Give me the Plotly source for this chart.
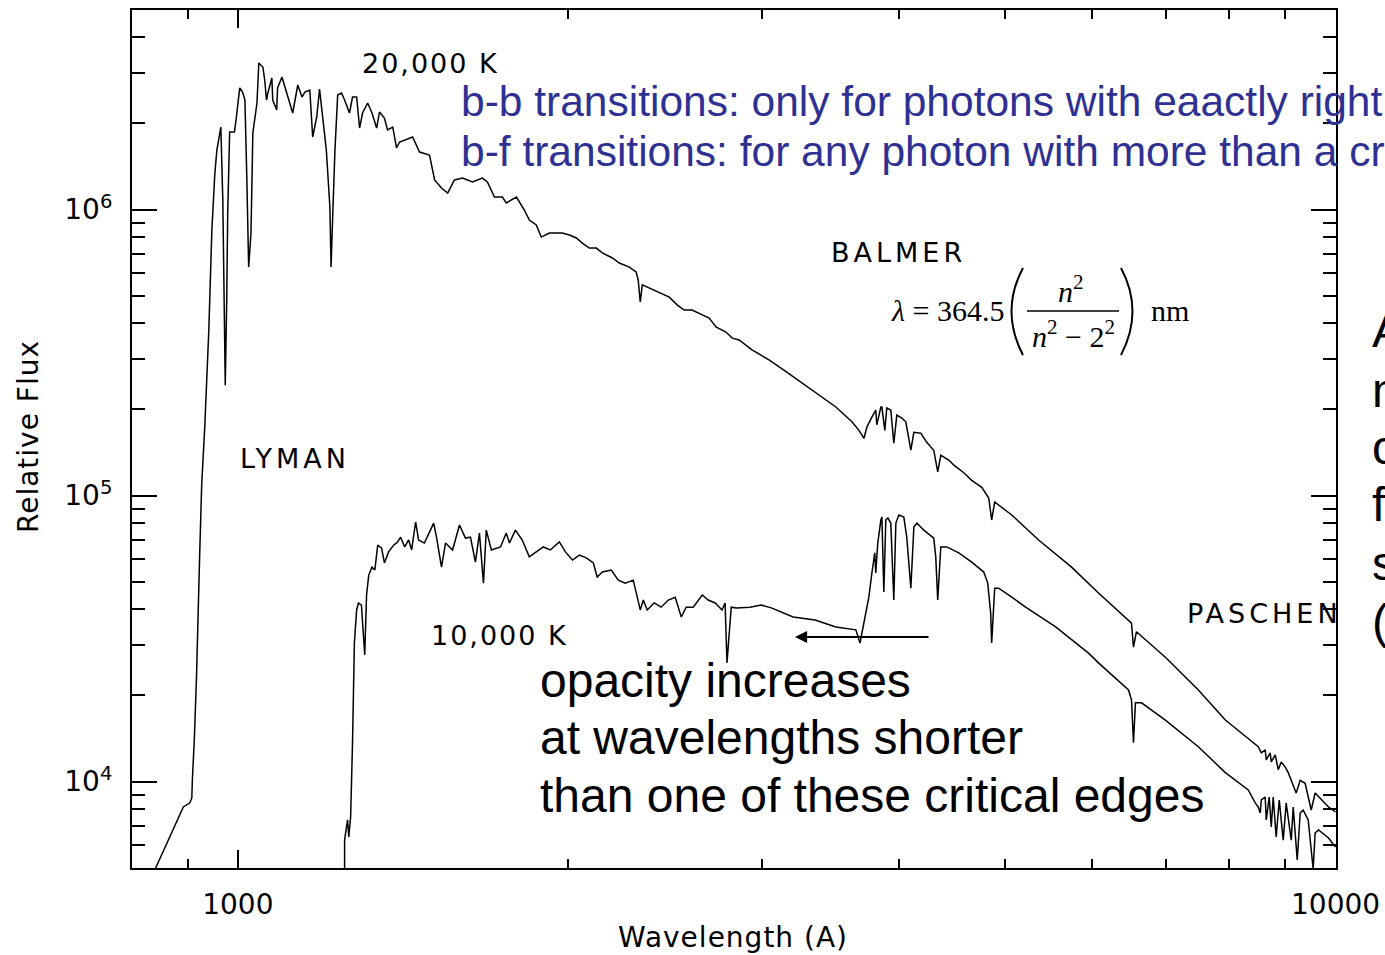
import plotly.graph_objects as go

# ---------------- data ----------------
wl_20k = [841, 892, 904, 908, 909, 913, 917, 921, 923, 927, 933, 941, 947, 953, 957, 963, 965, 969, 974, 977,
          979, 983, 993, 997, 1004, 1010, 1015, 1019, 1023, 1028, 1032, 1041, 1045, 1054, 1058, 1062, 1065, 1074,
          1076, 1085, 1087, 1097, 1108, 1122, 1134, 1144, 1151, 1163, 1170, 1180, 1187, 1194, 1204, 1213, 1216,
          1221, 1226, 1233, 1243, 1251, 1264, 1272, 1283, 1291, 1299, 1313, 1325, 1338, 1346, 1360, 1369, 1384,
          1395, 1404, 1443, 1464, 1495, 1511, 1533, 1553, 1575, 1602, 1636, 1670, 1688, 1713, 1742, 1756, 1794,
          1824, 1843, 1870, 1890, 1922, 1975, 2005, 2034, 2060, 2090, 2121, 2148, 2194, 2226, 2273, 2306, 2316,
          2326, 2336, 2370, 2420, 2472, 2513, 2550, 2593, 2649, 2688, 2728, 2784, 2821, 2862, 2940, 3047, 3158,
          3265, 3384, 3506, 3626, 3680, 3719, 3742, 3781, 3812, 3820, 3853, 3861, 3885, 3901, 3934, 3959, 3984,
          4026, 4060, 4103, 4129, 4190, 4242, 4305, 4341, 4369, 4443, 4490, 4585, 4662, 4761, 4831, 4861, 4892,
          4964, 5070, 5364, 5748, 6082, 6518, 6545, 6586, 6998, 7499, 7936, 8503, 8557, 8628, 8647, 8719, 8738,
          8811, 8867, 8923, 8997, 9055, 9207, 9285, 9382, 9502, 9581, 9854, 10000]
flux_20k = [4950, 8150, 8410, 8760, 10100, 14340, 23340, 39160, 60960, 108800, 173900, 379000, 848000, 1341000,
            1614000, 1852000, 1942000, 1080000, 243000, 483000, 969000, 1867000, 1867000, 2106000, 2661000,
            2575000, 2415000, 1299000, 629000, 828000, 1852000, 2357000, 3253000, 3150000, 2837000, 2415000,
            2554000, 2884000, 2415000, 2228000, 2661000, 2906000, 2554000, 2175000, 2725000, 2473000, 2575000,
            2617000, 1793000, 2106000, 2638000, 2106000, 1614000, 1021000, 629000, 1021000, 1614000, 2513000,
            2554000, 2415000, 2175000, 2473000, 2473000, 1927000, 2175000, 2357000, 2175000, 1927000, 2192000,
            2089000, 1897000, 1942000, 1641000, 1722000, 1793000, 1588000, 1550000, 1268000, 1189000, 1142000,
            1268000, 1288000, 1248000, 1288000, 1248000, 1106000, 1106000, 1054000, 1106000, 996000, 919000,
            883000, 801000, 828000, 828000, 814000, 795000, 763000, 733000, 733000, 705000, 677000, 650000,
            629000, 605000, 567000, 475000, 545000, 532000, 515000, 494000, 464000, 445000, 445000, 427000,
            417000, 388000, 373000, 355000, 350000, 323000, 298000, 271000, 247000, 225000, 204000, 181000,
            169000, 158500, 173900, 188100, 199000, 176700, 204000, 204000, 169000, 202500, 199000, 152300,
            191100, 186600, 181000, 144000, 166300, 165000, 153500, 144000, 121000, 138300, 133000, 127700,
            120100, 113000, 106800, 98000, 82100, 94900, 91100, 85500, 69900, 56200, 45600, 35800, 29500, 33400,
            27200, 20900, 16400, 13230, 12590, 12900, 11900, 12590, 11710, 12390, 11000, 11710, 11250, 10740,
            9117, 10100, 9858, 7950, 9117, 8147, 7823]

wl_10k = [1251, 1251, 1256, 1259, 1262, 1267, 1272, 1275, 1277, 1283, 1288, 1296, 1305, 1310, 1316, 1325, 1333,
          1341, 1352, 1360, 1372, 1387, 1398, 1407, 1419, 1431, 1440, 1452, 1461, 1479, 1508, 1517, 1533, 1546,
          1569, 1592, 1612, 1629, 1646, 1660, 1674, 1684, 1702, 1735, 1756, 1768, 1790, 1816, 1843, 1870, 1898,
          1926, 1963, 1988, 2018, 2047, 2077, 2108, 2125, 2148, 2189, 2221, 2254, 2292, 2306, 2326, 2341, 2360,
          2395, 2430, 2467, 2503, 2535, 2561, 2599, 2649, 2682, 2722, 2761, 2779, 2790, 2815, 2844, 2928, 2997,
          3066, 3205, 3356, 3506, 3656, 3688, 3703, 3734, 3757, 3781, 3804, 3812, 3828, 3853, 3861, 3877, 3893,
          3910, 3934, 3959, 3976, 4001, 4043, 4068, 4086, 4103, 4129, 4155, 4216, 4305, 4323, 4341, 4369, 4424,
          4537, 4662, 4781, 4821, 4851, 4861, 4892, 4933, 5070, 5220, 5559, 5956, 6082, 6477, 6518, 6545, 6572,
          6656, 6998, 7499, 7936, 8327, 8449, 8503, 8539, 8557, 8628, 8647, 8701, 8738, 8774, 8829, 8886, 8960,
          9016, 9112, 9150, 9227, 9285, 9343, 9442, 9541, 9581, 9650, 9854, 10000]
flux_10k = [4900, 6240, 6937, 7340, 6398, 7514, 13670, 24500, 30500, 39800, 42100, 41400, 27700, 44900, 52700,
            56200, 54900, 67100, 65500, 58100, 63500, 67100, 68800, 71500, 66100, 69900, 64500, 80800, 69900,
            68200, 80100, 71500, 56200, 68200, 64500, 78900, 71000, 71500, 58500, 73900, 49400, 75700, 64500,
            66100, 73900, 68200, 75700, 69900, 61000, 63500, 66100, 64500, 68800, 63500, 59500, 61900, 60500,
            58100, 51900, 54000, 54900, 50600, 49400, 50600, 46000, 39800, 43100, 39800, 42100, 40700, 43100,
            44100, 37600, 40700, 40700, 44900, 43100, 42100, 39800, 42100, 26000, 40700, 40400, 40700, 41400,
            40400, 37600, 36700, 34700, 33900, 30500, 33100, 38800, 44100, 53600, 63000, 53600, 68200, 82100,
            84100, 46000, 82100, 83400, 80100, 43100, 80100, 85500, 84100, 71500, 59500, 47400, 77600, 80100,
            75700, 71000, 61000, 43100, 66100, 66100, 63000, 58500, 54000, 49400, 38800, 30500, 47400, 47400,
            44100, 40700, 34700, 28100, 26000, 20900, 19300, 13670, 18840, 18840, 16400, 13230, 10740, 9340,
            8414, 8147, 7760, 8620, 8827, 7340, 8827, 6937, 8827, 6398, 8620, 6240, 8414, 6240, 8147, 5320,
            7760, 7950, 7340, 4950, 6608, 6770, 6348, 5897]

x_major = [1000, 10000]
x_major_text = ["1000", "10000"]
x_minor = [800, 900, 2000, 3000, 4000, 5000, 6000, 7000, 8000, 9000]
y_major = [1e4, 1e5, 1e6]
y_major_text = ["10<sup>4</sup>", "10<sup>5</sup>", "10<sup>6</sup>"]
y_minor = [6000, 7000, 8000, 9000, 2e4, 3e4, 4e4, 5e4, 6e4, 7e4, 8e4, 9e4,
           2e5, 3e5, 4e5, 5e5, 6e5, 7e5, 8e5, 9e5, 2e6, 3e6, 4e6]

# ---------------- layout geometry ----------------
W, H = 1385, 955
L, R, T, B = 132, 49, 10, 87
PW, PH = W - L - R, H - T - B


def px(x):
    return (x - L) / PW


def py(y):
    return (H - B - y) / PH


IDL = "DejaVu Sans"
ARIAL = "Liberation Sans"
SERIF = "Liberation Serif"
BLUE = "#2e3192"

fig = go.Figure()
fig.add_trace(go.Scatter(x=wl_20k, y=flux_20k, mode="lines",
                         line=dict(color="black", width=1.5), showlegend=False, hoverinfo="skip"))
fig.add_trace(go.Scatter(x=wl_10k, y=flux_10k, mode="lines",
                         line=dict(color="black", width=1.5), showlegend=False, hoverinfo="skip"))

ann = []


def text(x, y, s, size, color="black", family=IDL, xanchor="left", yanchor="middle", angle=0):
    if xanchor == "left":
        x -= 3
    ann.append(dict(x=px(x), y=py(y), xref="paper", yref="paper", text=s, showarrow=False,
                    xanchor=xanchor, yanchor=yanchor, textangle=angle,
                    font=dict(size=size, color=color, family=family)))


def spaced(s, sp):
    return '<span style="letter-spacing:%dpx">%s</span>' % (sp, s)


text(363, 64, spaced("20,000 K", 2), 27)
text(432, 635, spaced("10,000 K", 2), 27)
text(832, 252, spaced("BALMER", 4), 27)
text(241, 458, spaced("LYMAN", 4), 27)
text(1188, 614, spaced("PASCHEN", 4), 27)
text(733, 937, spaced("Wavelength (A)", 1), 28, xanchor="center")
text(28, 437, spaced("Relative Flux", 1), 28, xanchor="center", angle=-90)

text(462, 101, "b-b transitions: only for photons with eaactly right energy", 42.5, BLUE, ARIAL)
text(462, 151, "b-f transitions: for any photon with more than a critical energy", 42.5, BLUE, ARIAL)

text(541, 680, "opacity increases", 48, family=ARIAL)
text(541, 737, "at wavelengths shorter", 48, family=ARIAL)
text(541, 795, "than one of these critical edges", 48, family=ARIAL)

for yy, ch in zip([330, 390, 447, 505, 563, 621], ["A", "m", "o", "f", "s", "("]):
    text(1373, yy, ch, 48, family=ARIAL)

# formula
text(892, 310, "<i>λ</i> = 364.5", 30, family=SERIF)
text(1071, 289, "<i>n</i><sup>2</sup>", 30, family=SERIF, xanchor="center")
text(1073, 334, "<i>n</i><sup>2</sup> − 2<sup>2</sup>", 30, family=SERIF, xanchor="center")
text(1152, 310, "nm", 30, family=SERIF)

# arrow
ann.append(dict(x=px(795), y=py(637), xref="paper", yref="paper", text="", showarrow=True,
                ax=135, ay=0, arrowhead=2, arrowsize=1.1, arrowwidth=2.2, arrowcolor="black", standoff=0))

shapes = [
    dict(type="line", xref="paper", yref="paper", x0=px(1027), x1=px(1119), y0=py(311), y1=py(311),
         line=dict(color="black", width=1.5)),
    dict(type="path", xref="paper", yref="paper",
         path="M %f %f Q %f %f %f %f" % (px(1023), py(268), px(1000), py(311), px(1023), py(355)),
         line=dict(color="black", width=2)),
    dict(type="path", xref="paper", yref="paper",
         path="M %f %f Q %f %f %f %f" % (px(1121), py(268), px(1144), py(311), px(1121), py(355)),
         line=dict(color="black", width=2)),
]

axis_common = dict(type="log", showgrid=False, zeroline=False, showline=True, linecolor="black",
                   linewidth=2, mirror="allticks", ticks="inside", tickcolor="black", tickwidth=2,
                   tickfont=dict(family=IDL, size=28, color="black"))

fig.update_layout(
    width=W, height=H, margin=dict(l=L, r=R, t=T, b=B, autoexpand=False),
    paper_bgcolor="white", plot_bgcolor="white",
    xaxis=dict(range=[2.9036, 4.0004], tickvals=x_major, ticktext=x_major_text, ticklen=18,
               ticklabelstandoff=10,
               minor=dict(tickvals=x_minor, ticklen=9, tickwidth=2, tickcolor="black", ticks="inside"),
               **axis_common),
    yaxis=dict(range=[3.6976, 6.6976], tickvals=y_major, ticktext=y_major_text, ticklen=25,
               ticklabelstandoff=12,
               minor=dict(tickvals=y_minor, ticklen=13, tickwidth=2, tickcolor="black", ticks="inside"),
               **axis_common),
    annotations=ann, shapes=shapes, showlegend=False,
)

fig.write_html("out.html", config={"displayModeBar": False},
               post_script="document.body.style.margin='0';document.body.style.overflow='hidden';")
